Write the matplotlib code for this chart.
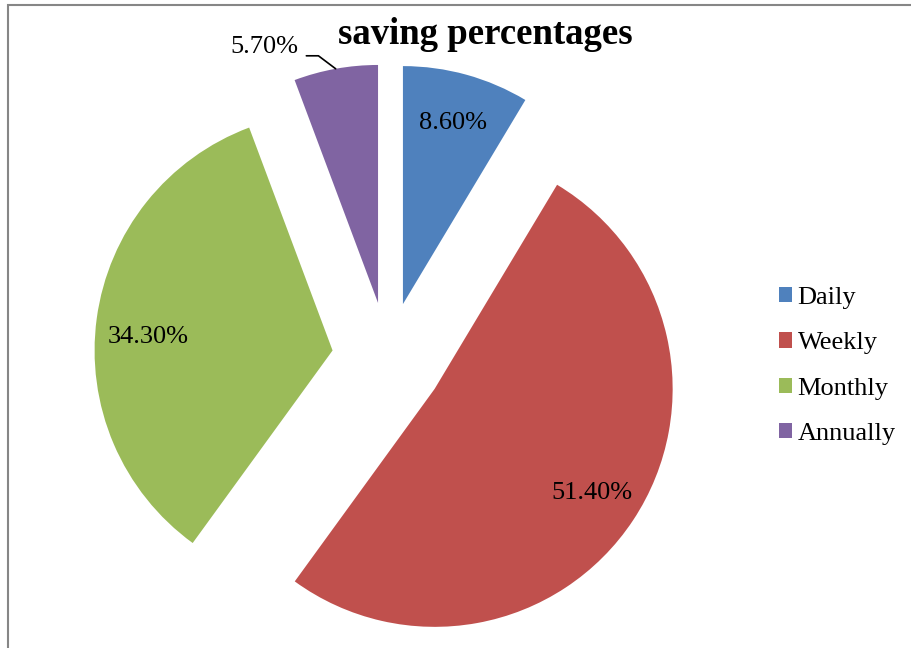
import numpy as np
import matplotlib
matplotlib.use("Agg")
import matplotlib.pyplot as plt
from matplotlib.patches import Rectangle

categories = ["Daily", "Weekly", "Monthly", "Annually"]
values = [8.6, 51.4, 34.3, 5.7]
colors = ["#4F81BD", "#C0504D", "#9BBB59", "#8064A2"]
title = "saving percentages"

plt.rcParams['font.family'] = ['Liberation Serif', 'DejaVu Serif']

W, H = 912, 648
fig = plt.figure(figsize=(W / 100, H / 100), dpi=100)
ax = fig.add_axes([0, 0, 1, 1])
cx, cy, R = 388, 358, 238

explode = [0.235] * len(values)
wedges, texts, autotexts = ax.pie(
    values, colors=colors, explode=explode, startangle=90, counterclock=False,
    autopct=lambda p: f"{p:.2f}%", pctdistance=0.79, radius=1.0,
    wedgeprops=dict(linewidth=0), textprops=dict(fontsize=19, color='black'))

ax.set_aspect('auto')
ax.set_xlim(-cx / R, (W - cx) / R)
ax.set_ylim((cy - H) / R, cy / R)
ax.axis('off')

# Monthly label sits slightly lower in the reference
x2, y2 = autotexts[2].get_position()
autotexts[2].set_position((x2 + 2 / R, y2 - 12 / R))

# Annually label placed outside with leader line
i = 3
autotexts[i].set_visible(False)
w = wedges[i]
mid = np.deg2rad((w.theta1 + w.theta2) / 2)
ex = explode[i]
xy = ((1 + ex) * np.cos(mid), (1 + ex) * np.sin(mid))
ax.annotate(f"{values[i]:.2f}%", xy=xy, xytext=((298 - cx) / R, (cy - 47) / R),
            ha='right', va='center', fontsize=19,
            arrowprops=dict(arrowstyle='-', color='black', lw=1.2,
                            relpos=(1.0, 0.1), shrinkA=4, shrinkB=0,
                            connectionstyle='angle,angleA=0,angleB=-37,rad=0'))

fig.text(485 / W, 1 - 35 / H, title, ha='center', va='center',
         fontsize=26.5, fontweight='bold')

leg = fig.legend(wedges, categories, loc='center left',
                 bbox_to_anchor=(779 / W, 1 - 366 / H), frameon=False,
                 fontsize=19, handlelength=0.5, handleheight=0.5,
                 handletextpad=0.2, labelspacing=0.88, borderpad=0,
                 borderaxespad=0)

fig.patches.append(Rectangle((8 / W, -0.1), 1.2, 1 - 5 / H + 0.1,
                             transform=fig.transFigure, fill=False,
                             edgecolor='#868686', linewidth=1.5))

fig.savefig("out.png", dpi=100)
